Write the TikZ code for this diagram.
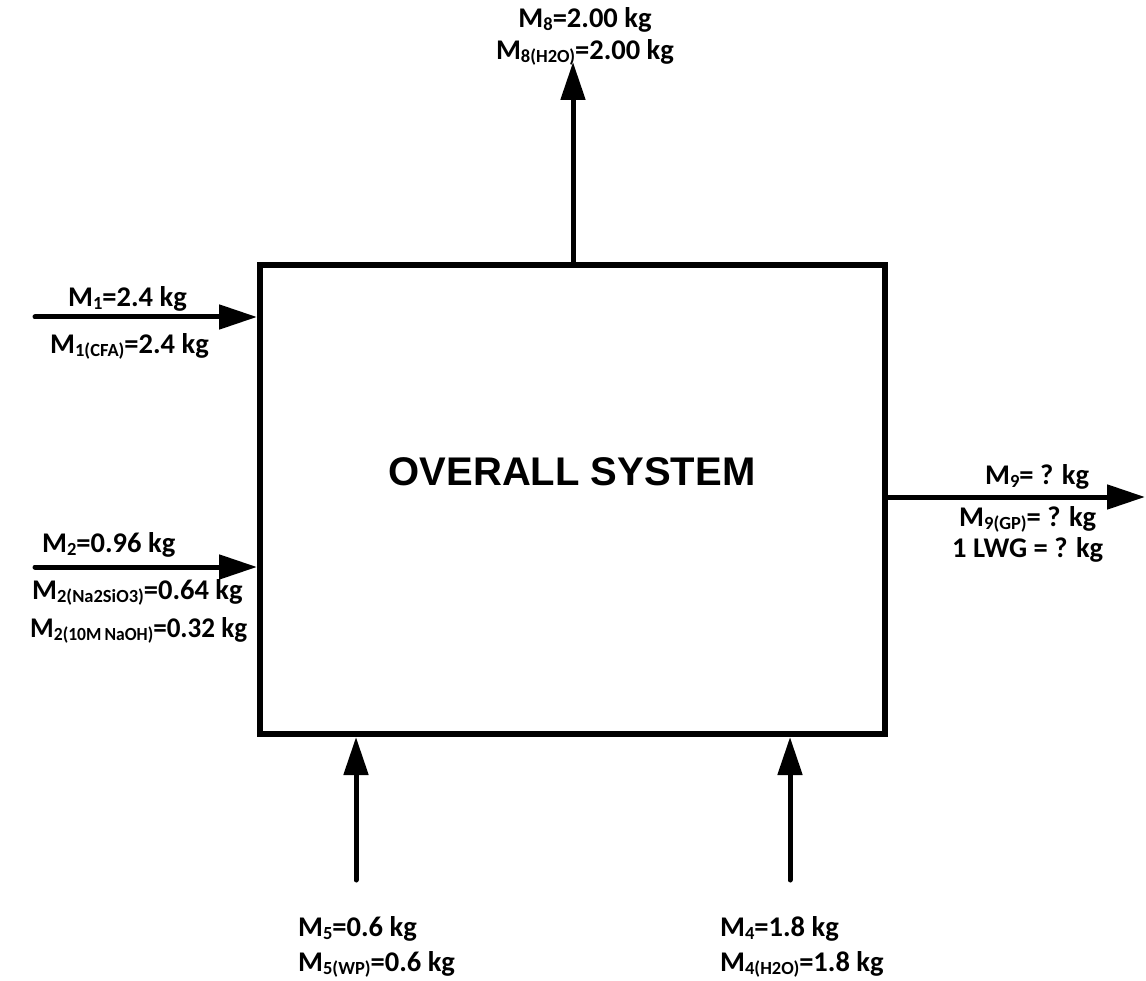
\documentclass[tikz,border=0pt]{standalone}
\usepackage{fontspec}
\setmainfont{Carlito}
\newfontfamily\titlefont{Liberation Sans}
\usetikzlibrary{arrows.meta}
\newcommand\sbs[1]{\raisebox{-3pt}{\fontsize{18.5pt}{18.5pt}\selectfont #1}}
\tikzset{
  flow/.style={line width=5pt, line cap=round, -{Triangle[length=38pt,width=24pt]}},
  lbl/.style={font=\fontsize{28.5pt}{34pt}\selectfont\bfseries, inner sep=0pt, anchor=base west},
  sysbox/.style={draw, line width=6pt, minimum width=625pt, minimum height=469pt, inner sep=0pt},
  title/.style={font=\titlefont\fontsize{40pt}{48pt}\selectfont\bfseries, inner sep=0pt}
}
\begin{document}
\begin{tikzpicture}[x=1pt,y=-1pt]
\useasboundingbox (0,0) rectangle (1146,981);
\node[sysbox] (box) at (572.5,499.5) {};
\node[title] (ttl) at (572,472) {OVERALL SYSTEM};

% free ends
\coordinate (top) at (573,62);
\coordinate (in1) at (35,317);
\coordinate (in2) at (35,567);
\coordinate (out9) at (1145,497);
\coordinate (b5) at (356,880);
\coordinate (b4) at (790,880);

\draw[flow] (box.north -| top) -- (top);
\draw[flow] (in1) -- (in1 -| box.west);
\draw[flow] (in2) -- (in2 -| box.west);
\draw[flow] (out9 -| box.east) -- (out9);
\draw[flow] (b5) -- (b5 |- box.south);
\draw[flow] (b4) -- (b4 |- box.south);

% labels
\node[lbl, anchor=base] (l8a) at (585,28) {M\sbs{8}=2.00 kg};
\node[lbl, anchor=base] (l8b) at (585,60) {M\sbs{8(H2O)}=2.00 kg};

\node[lbl] (l1a) at (68,307) {M\sbs{1}=2.4 kg};
\node[lbl] (l1b) at (50,354) {M\sbs{1(CFA)}=2.4 kg};

\node[lbl] (l2a) at (42,552) {M\sbs{2}=0.96 kg};
\node[lbl] (l2b) at (32,599) {M\sbs{2(Na2SiO3)}=0.64 kg};
\node[lbl] (l2c) at (30,637) {\scalebox{0.95}[1]{M\sbs{2(10M\hspace{0.18em}NaOH)}=0.32 kg}};

\node[lbl] (l9a) at (985,484) {M\sbs{9}= ? kg};
\node[lbl] (l9b) at (959,526) {M\sbs{9(GP)}= ? kg};
\node[lbl] (l9c) at (952,557) {1 LWG = ? kg};

\node[lbl] (l5a) at (298,936) {M\sbs{5}=0.6 kg};
\node[lbl] (l5b) at (298,971) {M\sbs{5(WP)}=0.6 kg};

\node[lbl] (l4a) at (720,936) {M\sbs{4}=1.8 kg};
\node[lbl] (l4b) at (720,971) {M\sbs{4(H2O)}=1.8 kg};
\end{tikzpicture}
\end{document}
